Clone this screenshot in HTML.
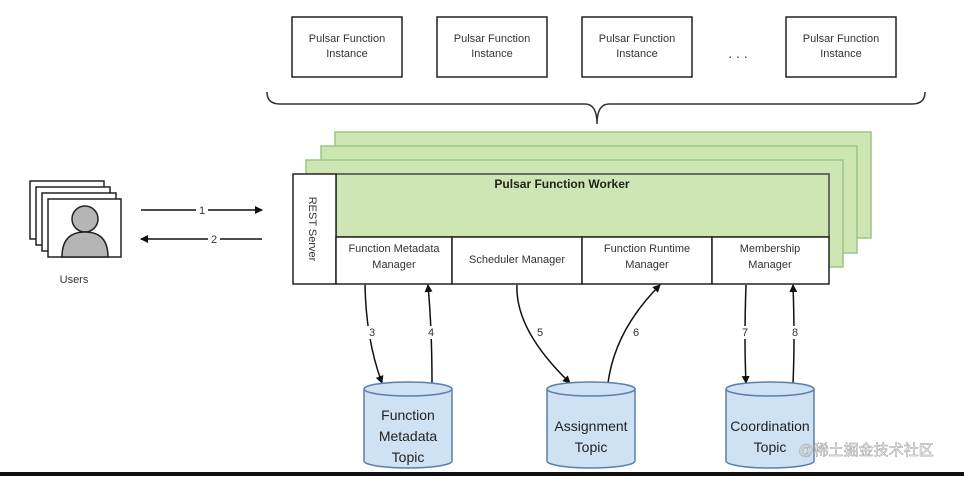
<!DOCTYPE html>
<html><head><style>
body{margin:0;background:#fff;}
svg text{font-family:"Liberation Sans",sans-serif;}
</style></head><body>
<svg width="964" height="476" viewBox="0 0 964 476" xmlns="http://www.w3.org/2000/svg">
<defs><marker id="a" markerWidth="8" markerHeight="8" refX="7" refY="4" orient="auto" markerUnits="userSpaceOnUse"><path d="M0,0 L8,4 L0,8 z" fill="#111"/></marker></defs>
<g fill="#fff" stroke="#222" stroke-width="1.5">
<rect x="292" y="17" width="110" height="60"/><rect x="437" y="17" width="110" height="60"/>
<rect x="582" y="17" width="110" height="60"/><rect x="786" y="17" width="110" height="60"/>
</g>
<g font-size="11" fill="#333" text-anchor="middle">
<text x="347" y="42">Pulsar Function</text><text x="347" y="57">Instance</text>
<text x="492" y="42">Pulsar Function</text><text x="492" y="57">Instance</text>
<text x="637" y="42">Pulsar Function</text><text x="637" y="57">Instance</text>
<text x="841" y="42">Pulsar Function</text><text x="841" y="57">Instance</text>
<text x="738" y="58" font-size="14">. . .</text>
</g>
<path d="M267,92 Q267,104 280,104 L585,104 Q597,104 597,124 Q597,104 609,104 L912,104 Q925,104 925,92" fill="none" stroke="#333" stroke-width="1.5"/>
<g fill="#cde6b4" stroke="#9cc584" stroke-width="1.5">
<rect x="335" y="132" width="536" height="106"/>
<rect x="321" y="146" width="536" height="107"/>
<rect x="306" y="160" width="537" height="107"/>
<rect x="336" y="174" width="493" height="63" stroke="#444"/>
</g>
<text x="562" y="188" font-size="12" font-weight="bold" fill="#222" text-anchor="middle">Pulsar Function Worker</text>
<rect x="293" y="174" width="43" height="110" fill="#fff" stroke="#222" stroke-width="1.5"/>
<text transform="translate(309,229) rotate(90)" font-size="11" fill="#333" text-anchor="middle">REST Server</text>
<g fill="#fff" stroke="#222" stroke-width="1.5">
<rect x="336" y="237" width="116" height="47"/><rect x="452" y="237" width="130" height="47"/>
<rect x="582" y="237" width="130" height="47"/><rect x="712" y="237" width="117" height="47"/>
</g>
<g font-size="11" fill="#333" text-anchor="middle">
<text x="394" y="252">Function Metadata</text><text x="394" y="268">Manager</text>
<text x="517" y="263">Scheduler Manager</text>
<text x="647" y="252">Function Runtime</text><text x="647" y="268">Manager</text>
<text x="770" y="252">Membership</text><text x="770" y="268">Manager</text>
</g>
<g fill="#fff" stroke="#222" stroke-width="1.5">
<rect x="30" y="181" width="74" height="58"/><rect x="36" y="187" width="74" height="58"/>
<rect x="42" y="193" width="74" height="58"/><rect x="48" y="199" width="73" height="58"/>
</g>
<circle cx="85" cy="219" r="13" fill="#b5b5b5" stroke="#222" stroke-width="1.5"/>
<path d="M62,257 Q62,232 85,232 Q108,232 108,257 z" fill="#b5b5b5" stroke="#222" stroke-width="1.5"/>
<text x="74" y="283" font-size="11" fill="#333" text-anchor="middle">Users</text>
<g stroke="#111" stroke-width="1.5" fill="none" marker-end="url(#a)">
<line x1="141" y1="210" x2="262" y2="210"/>
<line x1="262" y1="239" x2="141" y2="239"/>
<path d="M365,285 Q366,340 382,383"/>
<path d="M432,383 Q432,330 428,285"/>
<path d="M517,285 Q515,330 570,383"/>
<path d="M608,383 Q615,330 660,285"/>
<path d="M746,285 Q744,340 746,383"/>
<path d="M793,383 Q795,340 793,285"/>
</g>
<g font-size="11" fill="#333" text-anchor="middle">
<rect x="196" y="203" width="12" height="12" fill="#fff"/><text x="202" y="214">1</text>
<rect x="208" y="232" width="12" height="12" fill="#fff"/><text x="214" y="243">2</text>
<g fill="#fff"><rect x="366" y="326" width="12" height="13"/><rect x="425" y="326" width="12" height="13"/><rect x="534" y="326" width="12" height="13"/><rect x="630" y="326" width="12" height="13"/><rect x="739" y="326" width="12" height="13"/><rect x="789" y="326" width="12" height="13"/></g>
<text x="372" y="336">3</text><text x="431" y="336">4</text>
<text x="540" y="336">5</text><text x="636" y="336">6</text>
<text x="745" y="336">7</text><text x="795" y="336">8</text>
</g>
<g fill="#cfe2f3" stroke="#5b7fa6" stroke-width="1.5">
<path d="M364,389 L364,461 A44,7 0 0 0 452,461 L452,389"/><ellipse cx="408" cy="389" rx="44" ry="7"/>
<path d="M547,389 L547,461 A44,7 0 0 0 635,461 L635,389"/><ellipse cx="591" cy="389" rx="44" ry="7"/>
<path d="M726,389 L726,461 A44,7 0 0 0 814,461 L814,389"/><ellipse cx="770" cy="389" rx="44" ry="7"/>
</g>
<g font-size="14" fill="#222" text-anchor="middle">
<text x="408" y="420">Function</text><text x="408" y="441">Metadata</text><text x="408" y="462">Topic</text>
<text x="591" y="431">Assignment</text><text x="591" y="452">Topic</text>
<text x="770" y="431">Coordination</text><text x="770" y="452">Topic</text>
</g>
<text x="866" y="455" font-size="15" fill="#fff" stroke="#999" stroke-width="0.5" text-anchor="middle" style="font-family:'Liberation Sans','Noto Sans CJK SC',sans-serif">@稀土掘金技术社区</text>
<rect x="0" y="472" width="964" height="4" fill="#111"/>
</svg>
</body></html>
